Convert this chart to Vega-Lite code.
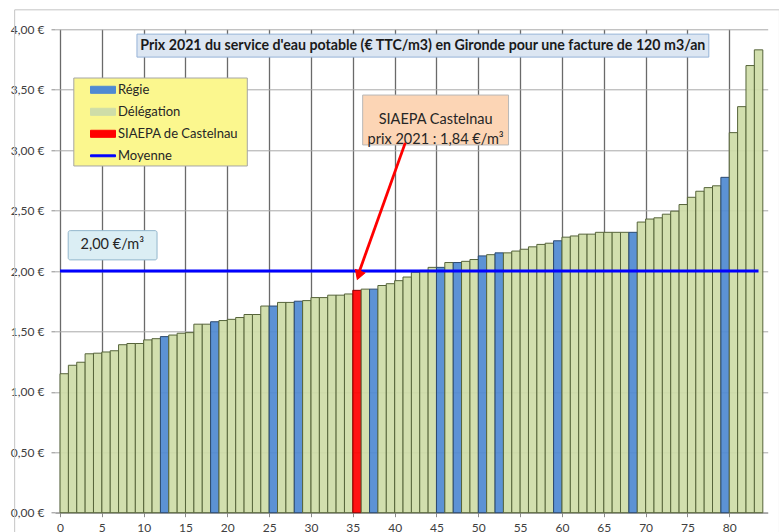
{
  "$schema": "https://vega.github.io/schema/vega-lite/v6.json",
  "width": 712.7,
  "height": 483.4,
  "autosize": {"type": "none"},
  "padding": {"left": 55, "top": 29.3, "right": 11.3, "bottom": 19.3},
  "background": "white",
  "config": {"view": {"stroke": null}, "font": "Lato"},
  "datasets": {
    "prix": [
      {"n": 0, "prix": 1.15, "type": "Délégation"},
      {"n": 1, "prix": 1.22, "type": "Délégation"},
      {"n": 2, "prix": 1.245, "type": "Délégation"},
      {"n": 3, "prix": 1.315, "type": "Délégation"},
      {"n": 4, "prix": 1.32, "type": "Délégation"},
      {"n": 5, "prix": 1.33, "type": "Délégation"},
      {"n": 6, "prix": 1.34, "type": "Délégation"},
      {"n": 7, "prix": 1.39, "type": "Délégation"},
      {"n": 8, "prix": 1.4, "type": "Délégation"},
      {"n": 9, "prix": 1.4, "type": "Délégation"},
      {"n": 10, "prix": 1.43, "type": "Délégation"},
      {"n": 11, "prix": 1.44, "type": "Délégation"},
      {"n": 12, "prix": 1.457, "type": "Régie"},
      {"n": 13, "prix": 1.47, "type": "Délégation"},
      {"n": 14, "prix": 1.485, "type": "Délégation"},
      {"n": 15, "prix": 1.49, "type": "Délégation"},
      {"n": 16, "prix": 1.56, "type": "Délégation"},
      {"n": 17, "prix": 1.56, "type": "Délégation"},
      {"n": 18, "prix": 1.58, "type": "Régie"},
      {"n": 19, "prix": 1.59, "type": "Délégation"},
      {"n": 20, "prix": 1.6, "type": "Délégation"},
      {"n": 21, "prix": 1.615, "type": "Délégation"},
      {"n": 22, "prix": 1.64, "type": "Délégation"},
      {"n": 23, "prix": 1.64, "type": "Délégation"},
      {"n": 24, "prix": 1.71, "type": "Délégation"},
      {"n": 25, "prix": 1.71, "type": "Régie"},
      {"n": 26, "prix": 1.74, "type": "Délégation"},
      {"n": 27, "prix": 1.74, "type": "Délégation"},
      {"n": 28, "prix": 1.75, "type": "Régie"},
      {"n": 29, "prix": 1.755, "type": "Délégation"},
      {"n": 30, "prix": 1.78, "type": "Délégation"},
      {"n": 31, "prix": 1.78, "type": "Délégation"},
      {"n": 32, "prix": 1.8, "type": "Délégation"},
      {"n": 33, "prix": 1.8, "type": "Délégation"},
      {"n": 34, "prix": 1.81, "type": "Délégation"},
      {"n": 35, "prix": 1.84, "type": "SIAEPA de Castelnau"},
      {"n": 36, "prix": 1.85, "type": "Délégation"},
      {"n": 37, "prix": 1.85, "type": "Régie"},
      {"n": 38, "prix": 1.88, "type": "Délégation"},
      {"n": 39, "prix": 1.895, "type": "Délégation"},
      {"n": 40, "prix": 1.92, "type": "Délégation"},
      {"n": 41, "prix": 1.95, "type": "Délégation"},
      {"n": 42, "prix": 1.99, "type": "Délégation"},
      {"n": 43, "prix": 2.005, "type": "Délégation"},
      {"n": 44, "prix": 2.03, "type": "Délégation"},
      {"n": 45, "prix": 2.03, "type": "Régie"},
      {"n": 46, "prix": 2.07, "type": "Délégation"},
      {"n": 47, "prix": 2.07, "type": "Régie"},
      {"n": 48, "prix": 2.08, "type": "Délégation"},
      {"n": 49, "prix": 2.095, "type": "Délégation"},
      {"n": 50, "prix": 2.125, "type": "Régie"},
      {"n": 51, "prix": 2.135, "type": "Délégation"},
      {"n": 52, "prix": 2.15, "type": "Régie"},
      {"n": 53, "prix": 2.15, "type": "Délégation"},
      {"n": 54, "prix": 2.165, "type": "Délégation"},
      {"n": 55, "prix": 2.18, "type": "Délégation"},
      {"n": 56, "prix": 2.2, "type": "Délégation"},
      {"n": 57, "prix": 2.22, "type": "Délégation"},
      {"n": 58, "prix": 2.23, "type": "Délégation"},
      {"n": 59, "prix": 2.25, "type": "Régie"},
      {"n": 60, "prix": 2.28, "type": "Délégation"},
      {"n": 61, "prix": 2.29, "type": "Délégation"},
      {"n": 62, "prix": 2.305, "type": "Délégation"},
      {"n": 63, "prix": 2.305, "type": "Délégation"},
      {"n": 64, "prix": 2.32, "type": "Délégation"},
      {"n": 65, "prix": 2.32, "type": "Délégation"},
      {"n": 66, "prix": 2.32, "type": "Délégation"},
      {"n": 67, "prix": 2.32, "type": "Délégation"},
      {"n": 68, "prix": 2.32, "type": "Régie"},
      {"n": 69, "prix": 2.405, "type": "Délégation"},
      {"n": 70, "prix": 2.43, "type": "Délégation"},
      {"n": 71, "prix": 2.44, "type": "Délégation"},
      {"n": 72, "prix": 2.47, "type": "Délégation"},
      {"n": 73, "prix": 2.495, "type": "Délégation"},
      {"n": 74, "prix": 2.55, "type": "Délégation"},
      {"n": 75, "prix": 2.61, "type": "Délégation"},
      {"n": 76, "prix": 2.66, "type": "Délégation"},
      {"n": 77, "prix": 2.69, "type": "Délégation"},
      {"n": 78, "prix": 2.705, "type": "Délégation"},
      {"n": 79, "prix": 2.775, "type": "Régie"},
      {"n": 80, "prix": 3.145, "type": "Délégation"},
      {"n": 81, "prix": 3.36, "type": "Délégation"},
      {"n": 82, "prix": 3.7, "type": "Délégation"},
      {"n": 83, "prix": 3.83, "type": "Délégation"}
    ]
  },
  "data": {"name": "prix"},
  "layer": [
    {
      "mark": {"type": "bar", "width": 8.485, "xOffset": 4.2425, "strokeWidth": 1, "fillOpacity": 0.93},
      "encoding": {
        "x": {
          "field": "n", "type": "quantitative",
          "scale": {"domain": [0, 84], "nice": false, "zero": false},
          "axis": {
            "values": [0, 5, 10, 15, 20, 25, 30, 35, 40, 45, 50, 55, 60, 65, 70, 75, 80],
            "title": null, "format": "d", "labelAngle": 0,
            "grid": true, "gridColor": "#6a6a6a", "gridWidth": 1.3,
            "domainColor": "#8c8c8c", "tickColor": "#8c8c8c", "tickSize": 4,
            "labelPadding": 6, "labelFontSize": 12, "labelColor": "#404040", "labelFont": "Lato"
          }
        },
        "y": {
          "field": "prix", "type": "quantitative",
          "scale": {"domain": [0, 4], "nice": false},
          "axis": {
            "values": [0, 0.25, 0.5, 0.75, 1, 1.25, 1.5, 1.75, 2, 2.25, 2.5, 2.75, 3, 3.25, 3.5, 3.75, 4],
            "labelExpr": "replace(format(datum.value, '.2f'), '.', ',') + ' €'",
            "title": null, "grid": true, "gridColor": "#a8a8a8", "gridWidth": 1,
            "domain": false, "tickColor": "#8c8c8c", "tickSize": 4,
            "labelPadding": 7, "labelFontSize": 12, "labelColor": "#404040", "labelFont": "Lato"
          }
        },
        "color": {
          "field": "type", "type": "nominal",
          "scale": {
            "domain": ["Régie", "Délégation", "SIAEPA de Castelnau", "Moyenne"],
            "range": ["#508ad2", "#cfdda8", "#ff0000", "#0000ff"]
          },
          "legend": {
            "orient": "none", "legendX": 39.5, "legendY": 52, "title": null,
            "padding": 0, "symbolSize": 256, "rowPadding": 6, "labelOffset": 6.5,
            "labelFontSize": 13, "labelFont": "Lato", "labelColor": "#262626",
            "symbolStrokeWidth": 1, "symbolOpacity": 1,
            "encode": {
              "symbols": {
                "update": {
                  "shape": {"signal": "datum.value === 'Moyenne' ? 'M-1.5625,-0.12H1.5625V0.12H-1.5625Z' : 'M-1.5625,-0.44H1.5625V0.44H-1.5625Z'"},
                  "stroke": {"signal": "datum.value === 'Moyenne' ? '#0000ff' : '#404040'"},
                  "fill": {"signal": "datum.value === 'Moyenne' ? '#0000ff' : (datum.value === 'Régie' ? '#508ad2' : (datum.value === 'Délégation' ? '#cfdda8' : '#ff0000'))"}
                }
              }
            }
          }
        },
        "stroke": {
          "field": "type", "type": "nominal",
          "scale": {"domain": ["Régie", "Délégation", "SIAEPA de Castelnau"], "range": ["#2c4a70", "#56643a", "#900000"]},
          "legend": null
        }
      }
    },
    {
      "data": {"values": [{}]},
      "mark": {"type": "rect", "fill": null, "fillOpacity": 0, "stroke": "#c4c4c4", "strokeWidth": 1},
      "encoding": {"x": {"datum": -5.42}, "x2": {"datum": 86}, "y": {"datum": 4.161}, "y2": {"datum": -0.5}}
    },
    {
      "data": {"values": [{}]},
      "mark": {"type": "rule", "strokeWidth": 3},
      "encoding": {
        "x": {"datum": 0}, "x2": {"datum": 83.5},
        "y": {"datum": 2},
        "color": {"datum": "Moyenne"}
      }
    },
    {
      "data": {"values": [{}]},
      "mark": {"type": "rect", "fill": "#dce6f2", "stroke": "#95b3d7", "strokeWidth": 1},
      "encoding": {"x": {"datum": 9.2}, "x2": {"datum": 77.56}, "y": {"datum": 3.96}, "y2": {"datum": 3.77}}
    },
    {
      "data": {"values": [{}]},
      "mark": {"type": "text", "fontWeight": "bold", "fontSize": 14.2, "font": "Lato", "color": "#1a1a1a", "align": "center", "baseline": "middle"},
      "encoding": {"x": {"datum": 43.37}, "y": {"datum": 3.862}, "text": {"value": "Prix 2021 du service d'eau potable  (€ TTC/m3) en Gironde pour une facture de 120 m3/an"}}
    },
    {
      "data": {"values": [{}]},
      "mark": {"type": "rect", "fill": "#fbf78e", "stroke": "#a6a6a6", "strokeWidth": 1},
      "encoding": {"x": {"datum": 1.65}, "x2": {"datum": 22.39}, "y": {"datum": 3.597}, "y2": {"datum": 2.869}}
    },
    {
      "data": {"values": [{}]},
      "mark": {"type": "rect", "fill": "#fcd5b5", "stroke": "#b8b8b8", "strokeWidth": 1},
      "encoding": {"x": {"datum": 36.18}, "x2": {"datum": 53.62}, "y": {"datum": 3.456}, "y2": {"datum": 3.043}}
    },
    {
      "data": {"values": [{}]},
      "mark": {"type": "text", "fontSize": 14.5, "font": "Lato", "color": "#262626", "align": "center", "baseline": "middle", "lineHeight": 20},
      "encoding": {"x": {"datum": 44.9}, "y": {"datum": 3.253}, "text": {"value": ["SIAEPA Castelnau", "prix 2021 : 1,84 €/m³"]}}
    },
    {
      "data": {"values": [{}]},
      "mark": {"type": "rect", "fill": "#dbeef4", "stroke": "#93b6cc", "strokeWidth": 1, "cornerRadius": 2},
      "encoding": {"x": {"datum": 0.98}, "x2": {"datum": 11.6}, "y": {"datum": 2.334}, "y2": {"datum": 2.092}}
    },
    {
      "data": {"values": [{}]},
      "mark": {"type": "text", "fontSize": 14.5, "font": "Lato", "color": "#262626", "align": "center", "baseline": "middle"},
      "encoding": {"x": {"datum": 6.25}, "y": {"datum": 2.215}, "text": {"value": "2,00 €/m³"}}
    },
    {
      "data": {"values": [{}]},
      "mark": {"type": "rule", "stroke": "#ff0000", "strokeWidth": 2.8},
      "encoding": {"x": {"datum": 41.27}, "y": {"datum": 3.06}, "x2": {"datum": 35.75}, "y2": {"datum": 1.99}}
    },
    {
      "data": {"values": [{}]},
      "mark": {"type": "point", "shape": "triangle-up", "filled": true, "fill": "#ff0000", "stroke": "#ff0000", "strokeWidth": 1, "opacity": 1, "size": 100, "angle": 199.5},
      "encoding": {"x": {"datum": 35.71}, "y": {"datum": 1.964}}
    }
  ]
}
